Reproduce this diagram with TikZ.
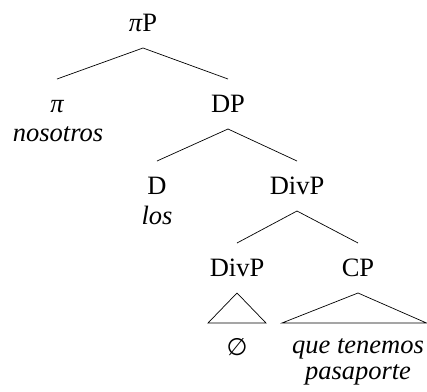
\documentclass[tikz,border=0pt]{standalone}
\usepackage{fontspec}
\setmainfont{Liberation Serif}
\newfontfamily\symfont{DejaVu Sans}
\begin{document}
\begin{tikzpicture}[x=1bp,y=-1bp,
  cat/.style={inner sep=0pt, text height=16bp, text depth=0pt, outer ysep=17bp,
    font=\fontsize{26.5bp}{30bp}\selectfont},
  word/.style={inner sep=0pt, anchor=base,
    font=\fontsize{26.5bp}{30bp}\selectfont\itshape},
  branch/.style={line width=0.7bp}]
\useasboundingbox (0,0) rectangle (427,392);

% category labels
\node[cat] (piP)  at (143,23)  {{\itshape π}P};
\node[cat] (pi)   at (57,104)  {{\itshape π}};
\node[cat] (DP)   at (228,104) {DP};
\node[cat] (D)    at (157,186) {D};
\node[cat] (DivP) at (297,186) {DivP};
\node[cat] (DivPl) at (237,268) {DivP};
\node[cat] (CP)   at (358,268) {CP};

% lexical material
\node[word] (nosotros) at (58,141)  {nosotros};
\node[word] (los)      at (157,224) {los};
\node[inner sep=0pt, font=\fontsize{24bp}{28bp}\symfont] (empty) at (237,347) {∅};
\node[word] (que)      at (358,353) {que tenemos};
\node[word] (pas)      at (358,379) {pasaporte};

% branches
\draw[branch] (pi.north) -- (piP.south) -- (DP.north);
\draw[branch] (D.north) -- (DP.south) -- (DivP.north);
\draw[branch] (DivPl.north) -- (DivP.south) -- (CP.north);

% triangles over unanalysed constituents
\draw[branch] (DivPl.south) -- ++(-29,30) -- ++(58,0) -- cycle;
\draw[branch] (CP.south) -- ++(-76,30) -- ++(144.5,0) -- cycle;
\end{tikzpicture}
\end{document}
